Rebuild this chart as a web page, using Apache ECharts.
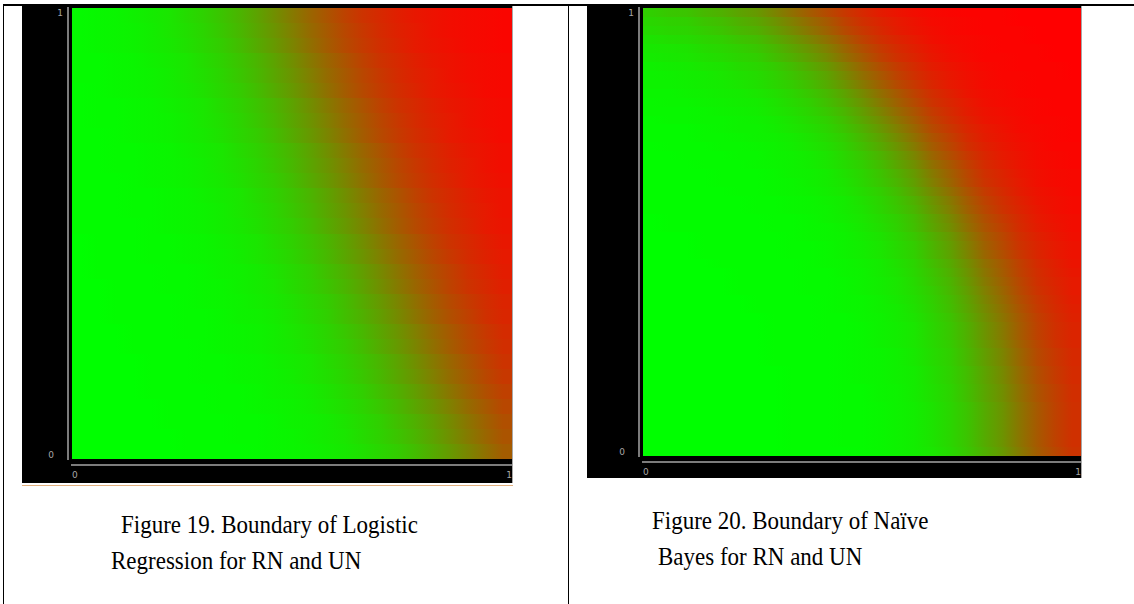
<!DOCTYPE html>
<html><head><meta charset="utf-8">
<script src="https://cdn.jsdelivr.net/npm/echarts@6/dist/echarts.min.js"></script>
<style>html,body{margin:0;padding:0;background:#fff}#c{width:1134px;height:604px}#c svg path,#c svg rect{shape-rendering:crispEdges}</style>
</head><body><div id="c"></div>
<script>
// Class value (0 = green class, 100 = red class).
// 25 columns (left -> right) per row, rows listed top -> bottom.
const logisticRows = [
[2,3,4,6,8,10,14,18,23,29,36,44,52,60,67,74,80,84,88,91,93,95,96,97,98],
[2,3,4,5,7,10,13,17,22,28,35,42,50,58,65,72,78,83,87,90,93,95,96,97,98],
[2,3,4,5,7,9,12,16,20,26,33,40,48,56,64,71,77,82,86,90,92,94,96,97,98],
[2,2,3,4,6,8,10,14,18,23,29,36,44,52,60,67,74,80,84,88,91,93,95,96,97],
[2,2,3,4,5,7,10,13,17,22,28,35,42,50,58,65,72,78,83,87,90,93,95,96,97],
[1,2,3,4,5,7,9,12,16,20,26,33,40,48,56,64,71,77,82,86,90,92,94,96,97],
[1,2,2,3,4,6,8,10,14,18,23,29,36,44,52,60,67,74,80,84,88,91,93,95,96],
[1,2,2,3,4,5,7,10,13,17,22,28,35,42,50,58,65,72,78,83,87,90,93,95,96],
[1,1,2,3,4,5,7,9,12,16,20,26,33,40,48,56,64,71,77,82,86,90,92,94,96],
[1,1,2,2,3,4,6,8,10,14,18,23,29,36,44,52,60,67,74,80,84,88,91,93,95],
[1,1,2,2,3,4,5,7,10,13,17,22,28,35,42,50,58,65,72,78,83,87,90,93,95],
[1,1,1,2,3,4,5,7,9,12,16,20,26,33,40,48,56,64,71,77,82,86,90,92,94],
[1,1,1,2,2,3,4,6,8,10,14,18,23,29,36,44,52,60,67,74,80,84,88,91,93],
[1,1,1,2,2,3,4,5,7,10,13,17,22,28,35,42,50,58,65,72,78,83,87,90,93],
[1,1,1,1,2,3,4,5,7,9,12,16,20,26,33,40,48,56,64,71,77,82,86,90,92],
[0,1,1,1,2,2,3,4,6,8,10,14,18,23,29,36,44,52,60,67,74,80,84,88,91],
[0,1,1,1,2,2,3,4,5,7,10,13,17,22,28,35,42,50,58,65,72,78,83,87,90],
[0,1,1,1,1,2,2,3,5,6,8,11,15,19,25,31,38,46,54,62,69,75,81,85,89],
[0,0,1,1,1,2,2,3,4,6,8,10,14,18,23,29,36,44,52,60,67,74,80,84,88],
[0,0,1,1,1,1,2,3,4,5,7,9,12,16,20,26,33,40,48,56,64,71,77,82,86],
[0,0,1,1,1,1,2,2,3,5,6,8,11,15,19,25,31,38,46,54,62,69,75,81,85],
[0,0,0,1,1,1,2,2,3,4,5,7,10,13,17,22,28,35,42,50,58,65,72,78,83],
[0,0,0,1,1,1,1,2,3,4,5,7,9,12,16,20,26,33,40,48,56,64,71,77,82],
[0,0,0,0,1,1,1,2,2,3,4,6,8,10,14,18,23,29,36,44,52,60,67,74,80],
[0,0,0,0,1,1,1,2,2,3,4,5,7,10,13,17,22,28,35,42,50,58,65,72,78],
[0,0,0,0,1,1,1,1,2,2,3,5,6,8,11,15,19,25,31,38,46,54,62,69,75],
[0,0,0,0,0,1,1,1,2,2,3,4,5,7,10,13,17,22,28,35,42,50,58,65,72],
[0,0,0,0,0,1,1,1,1,2,2,3,5,6,8,11,15,19,25,31,38,46,54,62,69],
[0,0,0,0,0,0,1,1,1,2,2,3,4,6,8,10,14,18,23,29,36,44,52,60,67],
[0,0,0,0,0,0,1,1,1,1,2,3,4,5,7,9,12,16,20,26,33,40,48,56,64]
];
// Class value, 25 columns per row, rows top -> bottom.
const bayesRows = [
[19,22,23,28,31,36,40,48,56,64,71,78,84,89,92,95,97,98,99,99,99,100,100,100,100],
[16,18,19,23,26,31,35,42,50,58,65,74,81,86,90,93,96,97,98,99,99,100,100,100,100],
[14,16,17,20,23,28,31,38,46,54,62,71,78,84,89,92,95,97,98,99,99,99,100,100,100],
[11,13,14,17,19,23,26,33,40,48,56,65,74,81,86,90,94,96,97,98,99,99,100,100,100],
[9,10,11,14,16,19,22,28,35,42,50,60,69,77,83,88,92,95,97,98,99,99,99,100,100],
[8,9,10,12,14,17,19,25,31,38,46,56,65,74,81,86,91,94,96,98,98,99,99,100,100],
[6,7,8,10,11,14,16,20,26,33,40,50,60,69,77,83,89,92,95,97,98,99,99,99,100],
[5,6,7,8,10,12,14,18,23,29,36,46,56,65,74,81,87,91,94,96,98,98,99,99,100],
[5,5,6,7,8,10,12,16,20,26,33,42,52,62,71,78,85,90,93,96,97,98,99,99,99],
[4,4,5,6,7,8,10,13,17,22,28,36,46,56,65,74,82,87,92,95,96,98,99,99,99],
[3,4,4,5,6,7,8,11,15,19,25,33,42,52,62,71,80,85,90,94,96,97,98,99,99],
[3,3,3,4,5,6,7,10,13,17,22,29,38,48,58,67,77,83,89,93,95,97,98,99,99],
[2,3,3,4,4,5,6,8,11,15,19,26,35,44,54,64,74,81,87,92,94,96,98,98,99],
[2,2,2,3,4,5,5,7,10,13,17,23,31,40,50,60,71,78,85,90,93,96,97,98,99],
[2,2,2,3,3,4,5,6,8,11,15,20,28,36,46,56,67,75,83,89,92,95,97,98,99],
[1,2,2,2,3,3,4,5,7,10,13,18,25,33,42,52,64,72,81,87,91,94,96,98,98],
[1,1,2,2,2,3,3,5,6,8,11,16,22,29,38,48,60,69,78,85,90,93,96,97,98],
[1,1,1,2,2,2,3,4,5,7,10,14,19,26,35,44,56,65,75,83,88,92,95,97,98],
[1,1,1,1,2,2,2,3,5,6,8,12,17,23,31,40,52,62,72,81,86,91,94,96,97],
[1,1,1,1,2,2,2,3,4,6,8,11,16,22,29,38,50,60,71,80,85,90,94,96,97],
[1,1,1,1,1,2,2,3,4,5,7,10,14,19,26,35,46,56,67,77,83,89,93,95,97],
[1,1,1,1,1,1,2,2,3,4,6,8,12,17,23,31,42,52,64,74,81,87,92,94,96],
[1,1,1,1,1,1,2,2,3,4,5,8,11,16,22,29,40,50,62,72,80,86,91,94,96],
[0,1,1,1,1,1,1,2,2,3,5,7,10,14,19,26,36,46,58,69,77,84,90,93,95],
[0,1,1,1,1,1,1,2,2,3,4,6,9,13,18,25,35,44,56,67,75,83,89,92,95],
[0,0,0,1,1,1,1,1,2,3,4,5,8,11,16,22,31,40,52,64,72,81,87,91,94],
[0,0,0,1,1,1,1,1,2,2,3,5,7,10,15,20,29,38,50,62,71,80,86,90,93],
[0,0,0,1,1,1,1,1,2,2,3,5,7,10,14,19,28,36,48,60,69,78,85,90,93],
[0,0,0,0,1,1,1,1,1,2,3,4,6,8,12,17,25,33,44,56,65,75,83,88,92],
[0,0,0,0,0,1,1,1,1,2,2,4,5,8,11,16,23,31,42,54,64,74,82,87,91],
[0,0,0,0,0,1,1,1,1,2,2,3,5,7,10,15,22,29,40,52,62,72,81,86,90],
[0,0,0,0,0,1,1,1,1,2,2,3,5,7,10,14,20,28,38,50,60,71,80,85,90],
[0,0,0,0,0,0,1,1,1,1,2,3,4,6,9,13,19,26,36,48,58,69,78,84,89],
[0,0,0,0,0,0,1,1,1,1,2,3,4,6,8,12,18,25,35,46,56,67,77,83,88],
[0,0,0,0,0,0,0,1,1,1,2,2,4,5,8,11,17,23,33,44,54,65,75,82,87],
[0,0,0,0,0,0,0,1,1,1,2,2,3,5,7,10,16,22,31,42,52,64,74,81,86],
[0,0,0,0,0,0,0,1,1,1,2,2,3,5,7,10,16,22,31,42,52,64,74,81,86],
[0,0,0,0,0,0,0,1,1,1,1,2,3,5,7,10,15,20,29,40,50,62,72,80,85],
[0,0,0,0,0,0,0,1,1,1,1,2,3,4,6,9,14,19,28,38,48,60,71,78,84],
[0,0,0,0,0,0,0,1,1,1,1,2,3,4,6,9,14,19,28,38,48,60,71,78,84],
[0,0,0,0,0,0,0,0,1,1,1,2,3,4,6,8,13,18,26,36,46,58,69,77,83],
[0,0,0,0,0,0,0,0,1,1,1,2,3,4,6,8,13,18,26,36,46,58,69,77,83],
[0,0,0,0,0,0,0,0,1,1,1,2,2,4,5,8,12,17,25,35,44,56,67,75,82],
[0,0,0,0,0,0,0,0,1,1,1,2,2,4,5,8,12,17,25,35,44,56,67,75,82],
[0,0,0,0,0,0,0,0,1,1,1,2,2,3,5,7,11,16,23,33,42,54,65,74,81],
[0,0,0,0,0,0,0,0,1,1,1,2,2,3,5,7,11,16,23,33,42,54,65,74,81],
[0,0,0,0,0,0,0,0,1,1,1,2,2,3,5,7,11,16,23,33,42,54,65,74,81],
[0,0,0,0,0,0,0,0,1,1,1,2,2,3,5,7,11,16,23,33,42,54,65,74,81],
[0,0,0,0,0,0,0,0,1,1,1,2,2,3,5,7,11,16,23,33,42,54,65,74,81],
[0,0,0,0,0,0,0,0,1,1,1,1,2,3,5,7,10,15,22,31,40,52,64,72,80]
];
const axisTicks = [0, 1];
const captionLeft = ['Figure 19. Boundary of Logistic', 'Regression for RN and UN'];
const captionRight = ['Figure 20. Boundary of Naïve', 'Bayes for RN and UN'];

function toCells(rows){ const out=[]; rows.forEach((r,j)=>r.forEach((v,i)=>out.push([i,j,v]))); return out; }
function cats(n){ return Array.from({length:n},(_,k)=>String(k)); }

// each cell is drawn from its centre to the next cell's centre, shaded between the two
// colours that the visualMap gives those cells; 1px overlap hides seams (clipped by grid)
function shadedCells(nCols){
  return function(params, api){
    const i = api.value(0), j = api.value(1);
    const idx = params.dataIndexInside;
    const c = api.coord([i, j]);
    const s = api.size([1, 1]);
    const top = c[1] - s[1] / 2;
    const x0 = i === 0 ? c[0] - s[0] / 2 : c[0];
    const x1 = i === nCols - 1 ? c[0] + s[0] / 2 : c[0] + s[0] + 1;
    const col = api.visual('color');
    let fill = col;
    if (i < nCols - 1) {
      const next = api.visual('color', idx + 1);
      fill = new echarts.graphic.LinearGradient(c[0], 0, c[0] + s[0], 0,
        [{offset:0, color:col}, {offset:1, color:next}], true);
    }
    return {type:'rect', shape:{x:x0, y:top, width:x1 - x0, height:s[1] + 1}, style:{fill:fill}};
  };
}

const labelColor = '#a6a6a6';
function catX(gi,n){ return {type:'category', gridIndex:gi, data:cats(n), show:false}; }
function catY(gi,n){ return {type:'category', gridIndex:gi, data:cats(n), inverse:true, show:false}; }
function valX(gi){
  return {type:'value', gridIndex:gi, min:axisTicks[0], max:axisTicks[1], interval:1, position:'bottom', offset:6,
    splitLine:{show:false}, axisTick:{show:false},
    axisLine:{show:true, onZero:false, lineStyle:{color:'#7c7c7c', width:2}},
    axisLabel:{color:labelColor, fontSize:9, fontFamily:'DejaVu Sans', margin:5, alignMinLabel:'left', alignMaxLabel:'right'}};
}
function valY(gi){
  return {type:'value', gridIndex:gi, min:axisTicks[0], max:axisTicks[1], interval:1, position:'left', offset:4,
    splitLine:{show:false}, axisTick:{show:false},
    axisLine:{show:true, onZero:false, lineStyle:{color:'#7c7c7c', width:2}},
    axisLabel:{color:labelColor, fontSize:9, fontFamily:'DejaVu Sans', margin:5,
      verticalAlignMinLabel:'bottom', verticalAlignMaxLabel:'top',
      formatter: v => v === 0 ? '{z|0}' : '{o|1}',
      rich:{ z:{padding:[0,9,0,0], color:labelColor, fontSize:9, fontFamily:'DejaVu Sans'},
             o:{color:labelColor, fontSize:9, fontFamily:'DejaVu Sans'} }}};
}
const capFont = '23px "Liberation Serif", "Times New Roman", serif';
function cap(x,y,t){ return {type:'text', x:x, y:y, z:20, scaleY:1.12, style:{text:t, font:capFont, fill:'#000', verticalAlign:'middle', align:'left'}}; }
function line(x1,y1,x2,y2,c,w,z){ return {type:'line', z:z, shape:{x1,y1,x2,y2}, style:{stroke:c, lineWidth:w}}; }

const chart = echarts.init(document.getElementById('c'), null, {renderer:'svg'});
chart.setOption({
  animation:false,
  backgroundColor:'#ffffff',
  grid:[
    {left:72, top:8, width:440, height:451, outerBoundsMode:'none'},
    {left:643, top:8, width:438, height:448, outerBoundsMode:'none'}
  ],
  xAxis:[catX(0,25), catX(1,25), valX(0), valX(1)],
  yAxis:[catY(0,logisticRows.length), catY(1,bayesRows.length), valY(0), valY(1)],
  visualMap:{type:'continuous', show:false, min:0, max:100, dimension:2, seriesIndex:[0,1], inRange:{color:['#00ff00','#ff0000']}},
  series:[
    {type:'custom', coordinateSystem:'cartesian2d', xAxisIndex:0, yAxisIndex:0, encode:{x:0, y:1},
     data:toCells(logisticRows), renderItem:shadedCells(25), silent:true, clip:true},
    {type:'custom', coordinateSystem:'cartesian2d', xAxisIndex:1, yAxisIndex:1, encode:{x:0, y:1},
     data:toCells(bayesRows), renderItem:shadedCells(25), silent:true, clip:true}
  ],
  graphic:[
    {type:'rect', z:-10, shape:{x:22, y:6, width:491, height:477}, style:{fill:'#000'}},
    {type:'rect', z:-10, shape:{x:587, y:6, width:495, height:472}, style:{fill:'#000'}},
    line(512.5,6,512.5,483,'#a8a8a8',1,10),
    line(1081.5,6,1081.5,478,'#a8a8a8',1,10),
    line(22,485.5,513,485.5,'#e2b07e',1,10),
    line(3,5,1134,5,'#000',2,10),
    line(3.5,5,3.5,604,'#000',1.5,10),
    line(568.5,5,568.5,604,'#000',1.5,10),
    cap(121,524,captionLeft[0]),
    cap(111,560,captionLeft[1]),
    cap(652,520,captionRight[0]),
    cap(658,556,captionRight[1])
  ]
});
</script></body></html>
